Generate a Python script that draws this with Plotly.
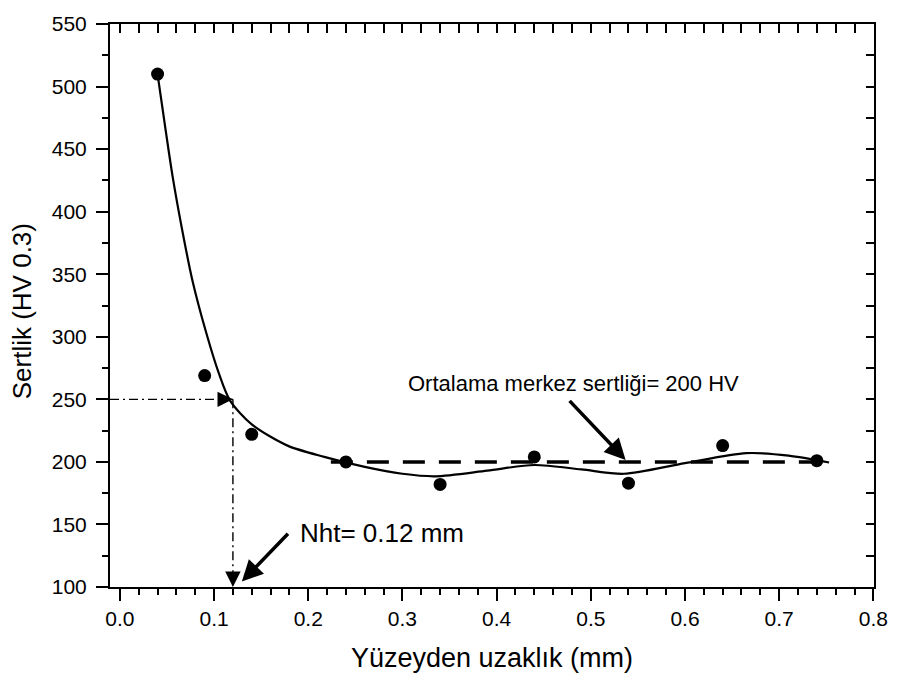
import plotly.graph_objects as go

# measured hardness points
dist = [0.04, 0.09, 0.14, 0.24, 0.34, 0.44, 0.54, 0.64, 0.74]
hard = [510, 269, 222, 200, 182, 204, 183, 213, 201]

# smooth fit curve
fit_x = [0.040, 0.049, 0.056, 0.0665, 0.077, 0.091, 0.105, 0.117, 0.140, 0.178,
         0.217, 0.26, 0.30, 0.335, 0.39, 0.44, 0.49, 0.535, 0.60, 0.665, 0.71, 0.753]
fit_y = [510, 463, 428, 384, 345, 305, 271, 249, 230, 213,
         204, 196, 190.5, 188.5, 193, 197.5, 194, 190.5, 199, 207, 205, 199.5]

# mean core hardness line
mean_x = [0.224, 0.754]
mean_y = [200, 200]

# effective hardening depth guide
nht = 0.12
nht_hv = 250

FONT = "Arial, Liberation Sans, sans-serif"

fig = go.Figure()
fig.add_trace(go.Scatter(x=fit_x, y=fit_y, mode="lines",
                         line=dict(color="black", width=2.2, shape="spline", smoothing=0.8),
                         hoverinfo="skip", showlegend=False))
fig.add_trace(go.Scatter(x=mean_x, y=mean_y, mode="lines",
                         line=dict(color="black", width=3.5, dash="22px,14px"),
                         showlegend=False))
fig.add_trace(go.Scatter(x=[-0.0105, nht], y=[nht_hv, nht_hv], mode="lines",
                         line=dict(color="black", width=1.4, dash="9px,4px,2px,4px"),
                         showlegend=False))
fig.add_trace(go.Scatter(x=[nht, nht], y=[nht_hv, 100], mode="lines",
                         line=dict(color="black", width=1.4, dash="9px,4px,2px,4px"),
                         showlegend=False))
fig.add_trace(go.Scatter(x=dist, y=hard, mode="markers",
                         marker=dict(color="black", size=13),
                         showlegend=False))
# invisible trace for mirrored axes
fig.add_trace(go.Scatter(x=[0], y=[100], xaxis="x2", yaxis="y2", mode="markers",
                         marker=dict(opacity=0), showlegend=False, hoverinfo="skip"))

xr = [-0.0105, 0.8007]
yr = [100, 550]

fig.update_layout(
    width=900, height=679,
    margin=dict(l=110, r=17, t=16, b=92),
    paper_bgcolor="white", plot_bgcolor="white",
    font=dict(family=FONT, color="black"),
    xaxis=dict(range=xr, tick0=0, dtick=0.1, tickformat=".1f",
               showgrid=False, zeroline=False,
               showline=True, linecolor="black", linewidth=2,
               ticks="outside", ticklen=12, tickwidth=2, tickcolor="black",
               tickfont=dict(size=21, family=FONT), ticklabelstandoff=0,
               minor=dict(ticks="outside", dtick=0.02, tick0=0, ticklen=6,
                          tickwidth=2, tickcolor="black", showgrid=False)),
    yaxis=dict(range=yr, tick0=100, dtick=50,
               showgrid=False, zeroline=False,
               showline=True, linecolor="black", linewidth=2,
               ticks="outside", ticklen=12, tickwidth=2, tickcolor="black",
               tickfont=dict(size=21, family=FONT), ticklabelstandoff=5,
               minor=dict(ticks="outside", dtick=25, tick0=100, ticklen=6,
                          tickwidth=2, tickcolor="black", showgrid=False)),
    xaxis2=dict(range=xr, overlaying="x", side="top", anchor="y",
                tick0=0, dtick=0.1, showticklabels=False,
                showgrid=False, zeroline=False,
                showline=True, linecolor="black", linewidth=2,
                ticks="inside", ticklen=9, tickwidth=2, tickcolor="black",
                minor=dict(ticks="inside", dtick=0.02, tick0=0, ticklen=9,
                           tickwidth=2, tickcolor="black", showgrid=False)),
    yaxis2=dict(range=yr, overlaying="y", side="right", anchor="x",
                tick0=100, dtick=50, showticklabels=False,
                showgrid=False, zeroline=False,
                showline=True, linecolor="black", linewidth=2,
                ticks="inside", ticklen=8, tickwidth=2, tickcolor="black",
                minor=dict(ticks="inside", dtick=25, tick0=100, ticklen=8,
                           tickwidth=2, tickcolor="black", showgrid=False)),
)

annos = []
# axis titles
annos.append(dict(text="Yüzeyden uzaklık (mm)", xref="paper", yref="paper",
                  x=0.5, y=-0.126, xanchor="center", yanchor="middle",
                  showarrow=False, font=dict(size=27, family=FONT)))
annos.append(dict(text="Sertlik (HV 0.3)", xref="paper", yref="paper",
                  x=-0.115, y=0.49, xanchor="center", yanchor="middle",
                  textangle=-90, showarrow=False, font=dict(size=26, family=FONT)))
# labels
annos.append(dict(text="Ortalama merkez sertliği= 200 HV", x=0.482, y=262.4,
                  xanchor="center", yanchor="middle", showarrow=False,
                  font=dict(size=22, family=FONT)))
annos.append(dict(text="Nht= 0.12 mm", x=0.2787, y=143.2,
                  xanchor="center", yanchor="middle", showarrow=False,
                  font=dict(size=26, family=FONT)))
# thick arrows
annos.append(dict(text="", x=0.537, y=201.5, ax=0.476, ay=250, axref="x", ayref="y",
                  showarrow=True, arrowhead=2, arrowwidth=3.5, arrowsize=1.2,
                  arrowcolor="black"))
annos.append(dict(text="", x=0.1295, y=104.3, ax=0.180, ay=143.7, axref="x", ayref="y",
                  showarrow=True, arrowhead=2, arrowwidth=3.5, arrowsize=1.2,
                  arrowcolor="black"))
# dash-dot arrow heads
annos.append(dict(text="", x=nht, y=nht_hv, ax=-16, ay=0,
                  showarrow=True, arrowhead=2, arrowwidth=1.4, arrowsize=2.2,
                  arrowcolor="black"))
annos.append(dict(text="", x=nht, y=100, ax=0, ay=-16,
                  showarrow=True, arrowhead=2, arrowwidth=1.4, arrowsize=2.2,
                  arrowcolor="black"))
fig.update_layout(annotations=annos)

fig.write_html("out.html")
